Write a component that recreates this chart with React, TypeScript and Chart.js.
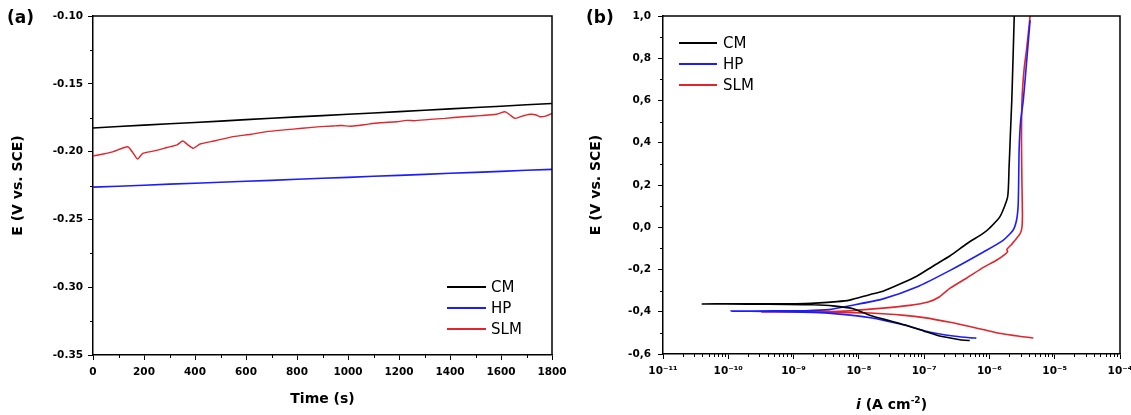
import { useEffect, useRef } from 'react';
import { Chart, registerables } from 'chart.js';

Chart.register(...registerables);

const FONT = '"DejaVu Sans", "Liberation Sans", sans-serif';

const seriesNames = ['CM', 'HP', 'SLM'];
const seriesColors = ['#000000', '#1c1cff', '#e3242b'];

// ---------- Panel (a): potential vs time ----------
const timeCM = [0, 100, 200, 300, 400, 500, 600, 700, 800, 900, 1000, 1100, 1200, 1300, 1400, 1500, 1600, 1700, 1800];
const ocpCM = [-0.1826, -0.1815, -0.1805, -0.1795, -0.1785, -0.1775, -0.1764, -0.1754, -0.1744, -0.1735, -0.1725, -0.1715, -0.1705, -0.1695, -0.1685, -0.1675, -0.1665, -0.1655, -0.1645];
const timeHP = [0, 100, 200, 300, 400, 500, 600, 700, 800, 900, 1000, 1100, 1200, 1300, 1400, 1500, 1600, 1700, 1800];
const ocpHP = [-0.2262, -0.2255, -0.2248, -0.2240, -0.2233, -0.2226, -0.2219, -0.2212, -0.2204, -0.2197, -0.2190, -0.2182, -0.2175, -0.2168, -0.2160, -0.2153, -0.2146, -0.2138, -0.2131];
const timeSLM = [0, 40, 80, 136, 155, 175, 195, 240, 290, 330, 352, 372, 393, 420, 480, 550, 620, 681, 750, 820, 880, 942, 975, 1008, 1040, 1080, 1125, 1191, 1230, 1260, 1322, 1380, 1452, 1520, 1583, 1616, 1635, 1655, 1680, 1714, 1735, 1753, 1775, 1800];
const ocpSLM = [-0.2032, -0.2018, -0.2000, -0.1964, -0.2005, -0.2055, -0.2013, -0.1995, -0.1970, -0.1950, -0.1922, -0.1950, -0.1976, -0.1944, -0.1920, -0.1890, -0.1872, -0.1853, -0.1840, -0.1828, -0.1818, -0.1811, -0.1808, -0.1813, -0.1808, -0.1797, -0.1787, -0.1780, -0.1770, -0.1772, -0.1762, -0.1755, -0.1743, -0.1735, -0.1725, -0.1706, -0.1730, -0.1755, -0.1740, -0.1725, -0.1728, -0.1743, -0.1738, -0.1718];

const timeTicks = [0, 200, 400, 600, 800, 1000, 1200, 1400, 1600, 1800];
const timeMinorTicks = [100, 300, 500, 700, 900, 1100, 1300, 1500, 1700];
const ocpTicks = [-0.35, -0.3, -0.25, -0.2, -0.15, -0.1];
const ocpTickLabels = ['-0.35', '-0.30', '-0.25', '-0.20', '-0.15', '-0.10'];
const ocpMinorTicks = [-0.325, -0.275, -0.225, -0.175, -0.125];

// ---------- Panel (b): polarization curves ----------
const iCM = [5.0e-7, 4.2e-7, 3.2e-7, 2.2e-7, 1.57e-7, 1.0e-7, 5.0e-8, 3.0e-8, 1.5e-8, 8e-9, 4e-9, 2e-9, 8e-10, 2e-10, 4e-11, 1e-10, 5e-10, 1.5e-9, 4.6e-9, 7.2e-9, 1.5e-8, 2.35e-8, 4.8e-8, 7.7e-8, 1.4e-7, 2.5e-7, 4.5e-7, 8.1e-7, 1.0e-6, 1.45e-6, 1.9e-6, 2.0e-6, 2.05e-6, 2.1e-6, 2.2e-6, 2.3e-6, 2.4e-6];
const eCM = [-0.536, -0.535, -0.530, -0.521, -0.511, -0.492, -0.462, -0.443, -0.418, -0.385, -0.372, -0.367, -0.365, -0.364, -0.363, -0.362, -0.362, -0.361, -0.352, -0.345, -0.318, -0.303, -0.262, -0.232, -0.182, -0.135, -0.078, -0.028, -0.005, 0.050, 0.144, 0.286, 0.365, 0.45, 0.6, 0.8, 1.0];

const iHP = [6.3e-7, 5.0e-7, 3.0e-7, 1.57e-7, 1.0e-7, 4.8e-8, 1.5e-8, 4.6e-9, 2e-9, 5e-10, 1.1e-10, 5e-10, 1.5e-9, 3.5e-9, 7.2e-9, 2.35e-8, 7.7e-8, 2.5e-7, 8.1e-7, 1.62e-6, 2.3e-6, 2.6e-6, 2.75e-6, 2.8e-6, 2.85e-6, 3.0e-6, 3.3e-6, 3.75e-6, 4.2e-6];
const eHP = [-0.525, -0.523, -0.516, -0.503, -0.490, -0.462, -0.428, -0.410, -0.403, -0.399, -0.397, -0.396, -0.395, -0.390, -0.372, -0.339, -0.283, -0.204, -0.117, -0.062, -0.014, 0.033, 0.1, 0.2, 0.365, 0.5, 0.6, 0.8, 0.98];

const iSLM = [4.7e-6, 3.2e-6, 2.3e-6, 1.5e-6, 9e-7, 5e-7, 2.5e-7, 1e-7, 5e-8, 1.5e-8, 5e-9, 1e-9, 3.2e-10, 1e-9, 3e-9, 7.2e-9, 2.35e-8, 6e-8, 1.15e-7, 1.7e-7, 2.5e-7, 4.5e-7, 8.1e-7, 1.3e-6, 1.75e-6, 1.9e-6, 1.85e-6, 2.2e-6, 2.95e-6, 3.15e-6, 3.2e-6, 3.15e-6, 3.1e-6, 3.15e-6, 3.4e-6, 3.7e-6, 4.2e-6];
const eSLM = [-0.524, -0.518, -0.512, -0.503, -0.488, -0.470, -0.450, -0.428, -0.417, -0.406, -0.403, -0.401, -0.401, -0.400, -0.399, -0.395, -0.383, -0.370, -0.354, -0.33, -0.288, -0.240, -0.190, -0.155, -0.127, -0.115, -0.105, -0.080, -0.030, 0.0, 0.066, 0.2, 0.4, 0.6, 0.75, 0.84, 1.0];

const iTicks = [1e-11, 1e-10, 1e-9, 1e-8, 1e-7, 1e-6, 1e-5, 1e-4];
const iTickLabels = ['10⁻¹¹', '10⁻¹⁰', '10⁻⁹', '10⁻⁸', '10⁻⁷', '10⁻⁶', '10⁻⁵', '10⁻⁴'];
const iMinorTicks: number[] = [];
for (let e = -11; e < -4; e++) {
  for (let s = 2; s <= 9; s++) iMinorTicks.push(s * Math.pow(10, e));
}
const eTicks = [-0.6, -0.4, -0.2, 0, 0.2, 0.4, 0.6, 0.8, 1.0];
const eTickLabels = ['-0,6', '-0,4', '-0,2', '0,0', '0,2', '0,4', '0,6', '0,8', '1,0'];
const eMinorTicks = [-0.5, -0.3, -0.1, 0.1, 0.3, 0.5, 0.7, 0.9];

const toPoints = (xs: number[], ys: number[]) => xs.map((x, k) => ({ x, y: ys[k] }));

const decorPlugin = {
  id: 'decor',
  afterDraw(chart: any, _args: any, o: any) {
    const { ctx, chartArea: ca } = chart;
    const xs = chart.scales.x;
    const ys = chart.scales.y;
    ctx.save();
    // frame (top & right)
    ctx.strokeStyle = '#000';
    ctx.lineWidth = 1.5;
    ctx.beginPath();
    ctx.moveTo(ca.left, ca.top);
    ctx.lineTo(ca.right, ca.top);
    ctx.lineTo(ca.right, ca.bottom);
    ctx.stroke();
    // minor ticks
    ctx.lineWidth = 1;
    ctx.beginPath();
    for (const v of o.minorX) {
      const p = Math.round(xs.getPixelForValue(v)) + 0.5;
      ctx.moveTo(p, ca.bottom);
      ctx.lineTo(p, ca.bottom + o.minorLen);
    }
    for (const v of o.minorY) {
      const p = Math.round(ys.getPixelForValue(v)) + 0.5;
      ctx.moveTo(ca.left, p);
      ctx.lineTo(ca.left - o.minorLen, p);
    }
    ctx.stroke();
    // legend
    const L = o.legend;
    ctx.font = `15px ${FONT}`;
    ctx.textBaseline = 'middle';
    ctx.textAlign = 'left';
    seriesNames.forEach((n, k) => {
      const y = L.y0 + k * L.dy;
      ctx.strokeStyle = seriesColors[k];
      ctx.lineWidth = 2;
      ctx.beginPath();
      ctx.moveTo(L.x0, y);
      ctx.lineTo(L.x1, y);
      ctx.stroke();
      ctx.fillStyle = '#000';
      ctx.fillText(n, L.tx, y + 1);
    });
    // panel label
    ctx.font = `bold 17px ${FONT}`;
    ctx.fillStyle = '#000';
    ctx.fillText(o.label.text, o.label.x, o.label.y);
    // composite x title
    if (o.currentTitle) {
      const big = `bold 14px ${FONT}`;
      const it = `italic bold 14px ${FONT}`;
      const sup = `bold 9px ${FONT}`;
      const parts = [
        { t: 'i', f: it, dy: 0 },
        { t: ' (A cm', f: big, dy: 0 },
        { t: '-2', f: sup, dy: -6 },
        { t: ')', f: big, dy: 0 },
      ];
      let total = 0;
      const ws = parts.map((p) => {
        ctx.font = p.f;
        const w = ctx.measureText(p.t).width;
        total += w;
        return w;
      });
      let x = (ca.left + ca.right) / 2 - total / 2;
      ctx.textBaseline = 'alphabetic';
      parts.forEach((p, k) => {
        ctx.font = p.f;
        ctx.fillText(p.t, x, o.currentTitle.y + p.dy);
        x += ws[k];
      });
    }
    ctx.restore();
  },
};

const tickFont = { family: FONT, size: 10.5, weight: 'bold' as const };
const titleFont = { family: FONT, size: 14, weight: 'bold' as const };

function makeConfigA(): any {
  return {
    type: 'line',
    data: {
      datasets: [
        { label: seriesNames[0], data: toPoints(timeCM, ocpCM), borderColor: seriesColors[0], borderWidth: 1.6, pointRadius: 0, tension: 0 },
        { label: seriesNames[1], data: toPoints(timeHP, ocpHP), borderColor: seriesColors[1], borderWidth: 1.6, pointRadius: 0, tension: 0 },
        { label: seriesNames[2], data: toPoints(timeSLM, ocpSLM), borderColor: seriesColors[2], borderWidth: 1.4, pointRadius: 0, tension: 0.2 },
      ],
    },
    options: {
      animation: false,
      responsive: false,
      maintainAspectRatio: false,
      layout: { padding: { left: 0, top: 16, right: 38, bottom: 0 } },
      plugins: {
        legend: { display: false },
        tooltip: { enabled: false },
        decor: {
          minorX: timeMinorTicks,
          minorY: ocpMinorTicks,
          minorLen: 3,
          legend: { x0: 447, x1: 486, tx: 491, y0: 287, dy: 21 },
          label: { text: '(a)', x: 7, y: 19 },
        },
      },
      scales: {
        x: {
          type: 'linear',
          min: 0,
          max: 1800,
          afterBuildTicks: (s: any) => { s.ticks = timeTicks.map((v) => ({ value: v })); },
          afterFit: (s: any) => { s.height = 60; },
          ticks: { autoSkip: false, maxRotation: 0, padding: 6, color: '#000', font: tickFont, callback: (_v: any, i: number) => String(timeTicks[i]) },
          grid: { drawOnChartArea: false, drawTicks: true, tickLength: 5, color: '#000', lineWidth: 1 },
          border: { color: '#000', width: 1.5 },
          title: { display: true, text: 'Time (s)', color: '#000', font: titleFont, padding: { top: 0, bottom: 7 } },
        },
        y: {
          type: 'linear',
          min: -0.35,
          max: -0.1,
          afterBuildTicks: (s: any) => { s.ticks = ocpTicks.map((v) => ({ value: v })); },
          afterFit: (s: any) => { s.width = 93; },
          ticks: { autoSkip: false, padding: 5, color: '#000', font: tickFont, callback: (_v: any, i: number) => ocpTickLabels[i] },
          grid: { drawOnChartArea: false, drawTicks: true, tickLength: 5, color: '#000', lineWidth: 1 },
          border: { color: '#000', width: 1.5 },
          title: { display: true, text: 'E (V vs. SCE)', color: '#000', font: titleFont, padding: { top: 10, bottom: 0 } },
        },
      },
    },
    plugins: [decorPlugin],
  };
}

function makeConfigB(): any {
  const ds = (k: number, xs: number[], ys: number[]) => ({
    label: seriesNames[k],
    data: toPoints(xs, ys),
    borderColor: seriesColors[k],
    borderWidth: 1.6,
    pointRadius: 0,
    showLine: true,
    tension: 0.2,
  });
  return {
    type: 'scatter',
    data: { datasets: [ds(0, iCM, eCM), ds(1, iHP, eHP), ds(2, iSLM, eSLM)] },
    options: {
      animation: false,
      responsive: false,
      maintainAspectRatio: false,
      layout: { padding: { left: 0, top: 16, right: 25, bottom: 0 } },
      plugins: {
        legend: { display: false },
        tooltip: { enabled: false },
        decor: {
          minorX: iMinorTicks,
          minorY: eMinorTicks,
          minorLen: 3,
          legend: { x0: 134, x1: 172, tx: 178, y0: 43, dy: 21 },
          label: { text: '(b)', x: 41, y: 19 },
          currentTitle: { y: 409 },
        },
      },
      scales: {
        x: {
          type: 'logarithmic',
          min: 1e-11,
          max: 1e-4,
          afterBuildTicks: (s: any) => { s.ticks = iTicks.map((v) => ({ value: v })); },
          afterFit: (s: any) => { s.height = 61; },
          ticks: { autoSkip: false, maxRotation: 0, padding: 6, color: '#000', font: tickFont, callback: (_v: any, i: number) => iTickLabels[i] },
          grid: { drawOnChartArea: false, drawTicks: true, tickLength: 5, color: '#000', lineWidth: 1 },
          border: { color: '#000', width: 1.5 },
          title: { display: false },
        },
        y: {
          type: 'linear',
          min: -0.6,
          max: 1.0,
          afterBuildTicks: (s: any) => { s.ticks = eTicks.map((v) => ({ value: v })); },
          afterFit: (s: any) => { s.width = 118; },
          ticks: { autoSkip: false, padding: 7, color: '#000', font: tickFont, callback: (_v: any, i: number) => eTickLabels[i] },
          grid: { drawOnChartArea: false, drawTicks: true, tickLength: 5, color: '#000', lineWidth: 1 },
          border: { color: '#000', width: 1.5 },
          title: { display: true, text: 'E (V vs. SCE)', color: '#000', font: titleFont, padding: { top: 43, bottom: 0 } },
        },
      },
    },
    plugins: [decorPlugin],
  };
}

function ChartCanvas({ make, left, width }: { make: () => any; left: number; width: number }) {
  const ref = useRef<HTMLCanvasElement>(null);
  useEffect(() => {
    const chart = new Chart(ref.current as HTMLCanvasElement, make());
    return () => chart.destroy();
  }, []);
  return (
    <canvas
      ref={ref}
      width={width}
      height={415}
      style={{ position: 'absolute', left, top: 0, width, height: 415 }}
    />
  );
}

export default function App() {
  return (
    <div style={{ position: 'absolute', left: 0, top: 0, width: 1131, height: 415, overflow: 'hidden', background: '#fff' }}>
      <ChartCanvas make={makeConfigA} left={0} width={590} />
      <ChartCanvas make={makeConfigB} left={545} width={600} />
    </div>
  );
}
